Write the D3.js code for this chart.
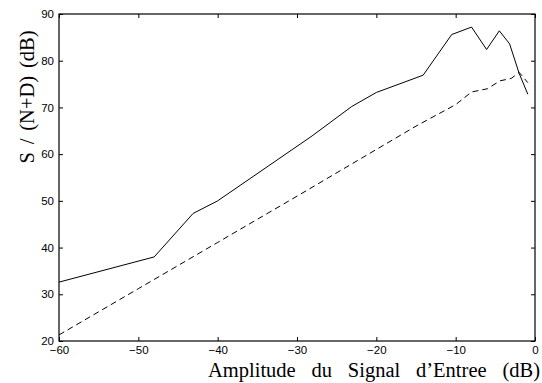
<!DOCTYPE html>
<html>
<head>
<meta charset="utf-8">
<script src="https://cdn.jsdelivr.net/npm/d3@7"></script>
<style>
  body { margin: 0; background: #fff; }
  svg { display: block; }
</style>
</head>
<body>
<svg id="chart" width="542" height="383"></svg>
<script>
// measured values (dB)
const solidX = [-60, -48, -43.1, -40, -28.1, -23.1, -20, -14.1, -10.5, -8, -6.1, -4.5, -3.2, -2, -0.9];
const solidY = [32.6, 38.0, 47.3, 50.0, 63.9, 70.2, 73.2, 76.9, 85.6, 87.2, 82.4, 86.4, 83.6, 77.3, 72.8];
const dashX = [-60, -50, -40, -30, -20, -15, -10, -8, -6, -4.4, -3, -2, -0.9];
const dashY = [21.3, 31.2, 41.1, 51.0, 61.0, 66.0, 70.6, 73.3, 74.0, 75.7, 76.2, 77.5, 75.3];
const xTicks = [-60, -50, -40, -30, -20, -10, 0];
const yTicks = [20, 30, 40, 50, 60, 70, 80, 90];

const svg = d3.select("#chart");
const plotLeft = 59, plotRight = 535, plotTop = 14, plotBottom = 341;

const x = d3.scaleLinear().domain([-60, 0]).range([plotLeft, plotRight]);
const y = d3.scaleLinear().domain([20, 90]).range([plotBottom, plotTop]);

const fmt = d => d < 0 ? "\u2212" + Math.abs(d) : String(d);
const tickFont = "'Liberation Sans', Arial, sans-serif";

// box
svg.append("rect")
    .attr("x", plotLeft).attr("y", plotTop)
    .attr("width", plotRight - plotLeft).attr("height", plotBottom - plotTop)
    .attr("fill", "none").attr("stroke", "#000").attr("stroke-width", 1.2);

// axes with inward ticks
const gx = svg.append("g").attr("transform", `translate(0,${plotBottom})`)
    .call(d3.axisBottom(x).tickValues(xTicks).tickSize(-4).tickPadding(5).tickFormat(fmt));
const gxTop = svg.append("g").attr("transform", `translate(0,${plotTop})`)
    .call(d3.axisTop(x).tickValues(xTicks).tickSize(-4).tickFormat(""));
const gy = svg.append("g").attr("transform", `translate(${plotLeft},0)`)
    .call(d3.axisLeft(y).tickValues(yTicks).tickSize(-4).tickPadding(5));
const gyRight = svg.append("g").attr("transform", `translate(${plotRight},0)`)
    .call(d3.axisRight(y).tickValues(yTicks).tickSize(-4).tickFormat(""));

[gx, gxTop, gy, gyRight].forEach(g => {
    g.select(".domain").remove();
    g.selectAll("line").attr("stroke", "#000");
    g.selectAll("text")
        .attr("fill", "#000")
        .style("font-family", tickFont)
        .style("font-size", "11.5px");
});

const line = d3.line().x(d => x(d[0])).y(d => y(d[1]));

svg.append("path")
    .datum(d3.zip(solidX, solidY))
    .attr("d", line)
    .attr("fill", "none").attr("stroke", "#000").attr("stroke-width", 1);

svg.append("path")
    .datum(d3.zip(dashX, dashY))
    .attr("d", line)
    .attr("fill", "none").attr("stroke", "#000").attr("stroke-width", 1)
    .attr("stroke-dasharray", "6,4");

// axis titles, spread words out like the original
function spreadWords(sel, target) {
    const w = sel.node().getComputedTextLength();
    const gaps = sel.text().split(" ").length - 1;
    sel.attr("word-spacing", Math.max(0, (target - w) / gaps));
}

const xLabel = svg.append("text")
    .attr("x", 540).attr("y", 377)
    .attr("text-anchor", "end")
    .style("font-family", "'Liberation Serif', 'Times New Roman', serif")
    .style("font-size", "20.5px")
    .text("Amplitude du Signal d\u2019Entree (dB)");
spreadWords(xLabel, 332);

const yLabel = svg.append("text")
    .attr("transform", "translate(34,97) rotate(-90)")
    .attr("text-anchor", "middle")
    .style("font-family", "'Liberation Serif', 'Times New Roman', serif")
    .style("font-size", "20.5px")
    .text("S / (N+D) (dB)");
spreadWords(yLabel, 133);
</script>
</body>
</html>
